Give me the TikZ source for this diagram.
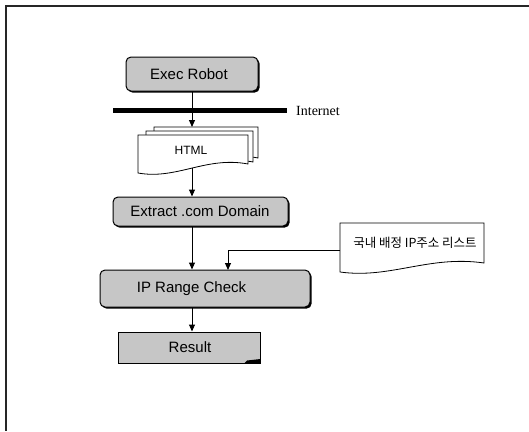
\documentclass[tikz,border=0pt]{standalone}
\usepackage{fontspec}
\setmainfont{Liberation Sans}
\newfontfamily\netfont{Liberation Serif}
\newfontfamily\krfont{Noto Sans CJK KR}
\usetikzlibrary{arrows.meta,shadows,calc}

% document outline with a wavy bottom: left, top, right, bottom-left y
\newcommand\docshape[4]{%
  (#1,#2) -- (#3,#2) -- (#3,{#4-9})
  .. controls ({#1+0.62*(#3-#1)},{#4-17}) and ({#1+0.35*(#3-#1)},{#4+7}) .. (#1,#4) -- cycle}

\begin{document}
\begin{tikzpicture}[x=1pt,y=-1pt,
  procbox/.style={draw=black, line width=1pt, fill=gray!45, rounded corners=5pt,
    inner sep=0pt, drop shadow={shadow xshift=1.6pt, shadow yshift=-1.6pt, fill=black, opacity=1}},
  boxtext/.style={font=\fontsize{15}{18}\selectfont, inner sep=0pt},
  page/.style={draw=black, line width=0.8pt, fill=white},
  flow/.style={-{Triangle[length=7pt,width=6pt]}, line width=1pt},
  frameline/.style={line width=1.4pt, draw=black!85}]

\useasboundingbox (0,0) rectangle (529,431);

% outer frame (top and left edges)
\draw[frameline] (529,6) -- (6,6) -- (6,431);

% spine of the main flow
\coordinate (spine) at (192,0);

% Exec Robot
\node[procbox, minimum width=132pt, minimum height=34pt] (exec) at (192,74) {};
\node[boxtext] (execText) at (189,74) {Exec Robot};

% Internet bar
\coordinate (netL) at (113,110.5);
\coordinate (netR) at (287,110.5);
\draw[line width=5pt] (netL) -- (netR);
\node[anchor=west, inner sep=0pt, font=\netfont\fontsize{14}{16}\selectfont] (net) at (296,110.5) {Internet};

% HTML page stack
\draw[page] \docshape{154}{127}{258}{167};
\draw[page] \docshape{146}{131}{253}{171};
\draw[page] \docshape{138}{135}{248}{173};
\node[font=\fontsize{12}{14}\selectfont, inner sep=0pt] (html) at (191,150) {HTML};
\coordinate (htmlTop) at (192,127);
\coordinate (htmlBot) at (192,167.5);

% Extract .com Domain
\node[procbox, minimum width=175pt, minimum height=29pt] (extract) at (200.5,211.5) {};
\node[boxtext] (extractText) at (200,211.5) {Extract .com Domain};

% IP Range Check
\node[procbox, minimum width=210pt, minimum height=37pt] (ip) at (205,288.5) {};
\node[boxtext] (ipText) at (191.5,289) {IP Range Check};

% domestic IP list document
\draw[page] \docshape{340}{223}{484}{272};
\node[font=\krfont\fontsize{12.5}{14}\selectfont, inner sep=0pt] (krlist) at (415,243) {국내 배정 IP주소 리스트};
\coordinate (krIn) at (340,250);
\coordinate (ipIn) at (228,270);

% Result
\node[draw=black, line width=1pt, fill=gray!45, minimum width=142pt, minimum height=31pt, inner sep=0pt] (result) at (189,347.5) {};
\fill[black] (244,363.8) -- (247,360.5) -- (260.5,359) -- (260.5,363.8) -- cycle;
\node[boxtext] (resultText) at (190,347.5) {Result};

% connectors
\draw[flow] (spine |- exec.south) -- (htmlTop);
\draw[flow] (htmlBot) -- (spine |- extract.north);
\draw[flow] (spine |- extract.south) -- (spine |- ip.north);
\draw[flow] (krIn) -| (ipIn);
\draw[flow] (spine |- ip.south) -- (spine |- result.north);

\end{tikzpicture}
\end{document}
